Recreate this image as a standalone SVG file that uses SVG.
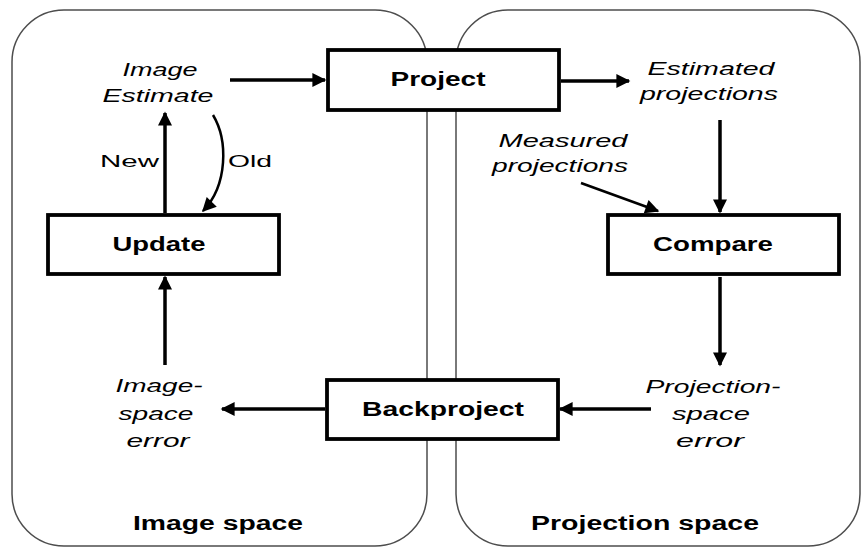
<svg xmlns="http://www.w3.org/2000/svg" width="862" height="548" viewBox="0 0 862 548">
<defs>
<style>
.panel{fill:#fff;stroke:#4d4d4d;stroke-width:1.5}
.box{fill:#fff;stroke:#000;stroke-width:3.8}
.lbl{font-family:"Liberation Sans",Arial,sans-serif;font-size:19.5px;font-weight:bold;fill:#000;text-anchor:middle}
.it{font-family:"Liberation Sans",Arial,sans-serif;font-size:18px;font-style:italic;fill:#000;text-anchor:middle}
.rg{font-family:"Liberation Sans",Arial,sans-serif;font-size:17px;fill:#000}
.ln{fill:none;stroke:#000;stroke-width:3.5}
</style>
<marker id="ah" viewBox="0 0 10 10" refX="9" refY="5" markerWidth="4.3" markerHeight="4" markerUnits="strokeWidth" orient="auto">
<path d="M0,0 L10,5 L0,10 z" fill="#000"/>
</marker>
<marker id="ah2" viewBox="0 0 10 10" refX="9" refY="5" markerWidth="6" markerHeight="5.6" markerUnits="strokeWidth" orient="auto">
<path d="M0,0 L10,5 L0,10 z" fill="#000"/>
</marker>
</defs>
<g id="image-space">
<rect class="panel" x="12" y="10" width="415" height="536" rx="52" ry="52"/>
<text class="lbl" x="218" y="530" textLength="170" lengthAdjust="spacingAndGlyphs">Image space</text>
</g>
<g id="projection-space">
<rect class="panel" x="456" y="10" width="404" height="536" rx="52" ry="52"/>
<text class="lbl" x="645" y="530" textLength="228" lengthAdjust="spacingAndGlyphs">Projection space</text>
</g>
<g id="connectors">
<line class="ln" x1="230" y1="80" x2="325" y2="80" marker-end="url(#ah)"/>
<line class="ln" x1="561" y1="81" x2="629" y2="81" marker-end="url(#ah)"/>
<line class="ln" x1="720" y1="120" x2="720" y2="212" marker-end="url(#ah)"/>
<line x1="581" y1="183" x2="658" y2="211" stroke="#000" stroke-width="2.5" marker-end="url(#ah2)"/>
<line class="ln" x1="720" y1="277" x2="720" y2="365" marker-end="url(#ah)"/>
<line class="ln" x1="651" y1="409" x2="560" y2="409" marker-end="url(#ah)"/>
<line class="ln" x1="325" y1="409" x2="222" y2="409" marker-end="url(#ah)"/>
<line class="ln" x1="165" y1="365" x2="165" y2="277" marker-end="url(#ah)"/>
<line class="ln" x1="165" y1="213" x2="165" y2="113" marker-end="url(#ah)"/>
<path d="M213,115 C228,140 228,185 203,211" fill="none" stroke="#000" stroke-width="2.5" marker-end="url(#ah2)"/>
</g>
<g id="image-estimate">
<text class="it" x="160" y="76" textLength="75" lengthAdjust="spacingAndGlyphs">Image</text>
<text class="it" x="158" y="102" textLength="111" lengthAdjust="spacingAndGlyphs">Estimate</text>
</g>
<g id="new-label"><text class="rg" x="100" y="167" textLength="59" lengthAdjust="spacingAndGlyphs">New</text></g>
<g id="old-label"><text class="rg" x="228" y="167" textLength="44" lengthAdjust="spacingAndGlyphs">Old</text></g>
<g id="project">
<rect class="box" x="328" y="50" width="231" height="60"/>
<text class="lbl" x="438" y="86" textLength="95" lengthAdjust="spacingAndGlyphs">Project</text>
</g>
<g id="estimated-projections">
<text class="it" x="711" y="75" textLength="127" lengthAdjust="spacingAndGlyphs">Estimated</text>
<text class="it" x="709" y="100" textLength="138" lengthAdjust="spacingAndGlyphs">projections</text>
</g>
<g id="measured-projections">
<text class="it" x="563" y="147" textLength="129" lengthAdjust="spacingAndGlyphs">Measured</text>
<text class="it" x="560" y="172" textLength="136" lengthAdjust="spacingAndGlyphs">projections</text>
</g>
<g id="update">
<rect class="box" x="48" y="215" width="231" height="59"/>
<text class="lbl" x="159" y="251" textLength="93" lengthAdjust="spacingAndGlyphs">Update</text>
</g>
<g id="compare">
<rect class="box" x="608" y="215" width="231" height="59"/>
<text class="lbl" x="713" y="251" textLength="120" lengthAdjust="spacingAndGlyphs">Compare</text>
</g>
<g id="backproject">
<rect class="box" x="327" y="380" width="231" height="59"/>
<text class="lbl" x="443" y="416" textLength="162" lengthAdjust="spacingAndGlyphs">Backproject</text>
</g>
<g id="image-space-error">
<text class="it" x="159" y="392" textLength="87" lengthAdjust="spacingAndGlyphs">Image-</text>
<text class="it" x="156" y="420" textLength="75" lengthAdjust="spacingAndGlyphs">space</text>
<text class="it" x="158" y="447" textLength="63" lengthAdjust="spacingAndGlyphs">error</text>
</g>
<g id="projection-space-error">
<text class="it" x="713" y="393" textLength="135" lengthAdjust="spacingAndGlyphs">Projection-</text>
<text class="it" x="711" y="420" textLength="78" lengthAdjust="spacingAndGlyphs">space</text>
<text class="it" x="710" y="447" textLength="68" lengthAdjust="spacingAndGlyphs">error</text>
</g>
</svg>
